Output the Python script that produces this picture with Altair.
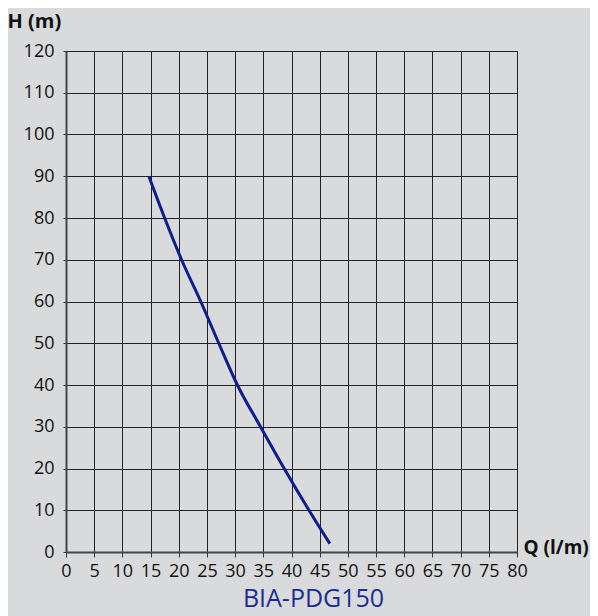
import altair as alt
import pandas as pd

flow_q = [14.7, 17.5, 20.5, 23.9, 27.1, 30.4, 34.5, 38.7, 43.1, 46.8]
head_h = [90, 80, 70, 60, 50, 40, 30, 20, 10, 2]
x_ticks = list(range(0, 81, 5))
y_ticks = list(range(0, 121, 10))

df = pd.DataFrame({"Q": flow_q, "H": head_h})

FONT = "Open Sans"

line = alt.Chart(df).mark_line(color="#0c1f8c", strokeWidth=3,
                               interpolate="monotone").encode(
    x=alt.X("Q:Q",
            scale=alt.Scale(domain=[0, 80], nice=False, zero=False),
            axis=alt.Axis(values=x_ticks, title="Q (l/m)", titleAngle=0,
                          titleAlign="left", titleBaseline="middle",
                          titleX=457, titleY=-5, titleFontWeight="bold",
                          titleFontSize=19, titleColor="#111",
                          labelFontSize=18, labelColor="#111", labelPadding=5,
                          tickSize=5, labelFlush=False, labelOverlap=False)),
    y=alt.Y("H:Q",
            scale=alt.Scale(domain=[0, 120], nice=False),
            axis=alt.Axis(values=y_ticks, title="H (m)", titleAngle=0,
                          titleAlign="left", titleBaseline="middle",
                          titleX=-59, titleY=-30, titleFontWeight="bold",
                          titleFontSize=20, titleColor="#111",
                          labelFontSize=18, labelColor="#111", labelPadding=9,
                          tickSize=3)),
    order=alt.Order("H:Q", sort="descending"),
)

chart = line.properties(
    width=451,
    height=501,
    padding={"left": 58, "top": 43, "right": 73, "bottom": 64},
    autosize=alt.AutoSizeParams(type="none"),
    background="#d9dadc",
    title=alt.TitleParams("BIA-PDG150", orient="bottom", anchor="middle",
                          fontSize=25, fontWeight="normal", color="#1a2d94",
                          font=FONT, offset=7, dx=22),
).configure_view(
    stroke="#222", strokeWidth=1, fill="#d9dadc"
).configure_axis(
    grid=True, gridColor="#222", gridWidth=1, gridOpacity=1,
    domainColor="#444", domainWidth=2, tickColor="#333",
    labelFont=FONT, titleFont=FONT,
)

chart.save("out.html", embed_options={"renderer": "svg", "actions": False})
